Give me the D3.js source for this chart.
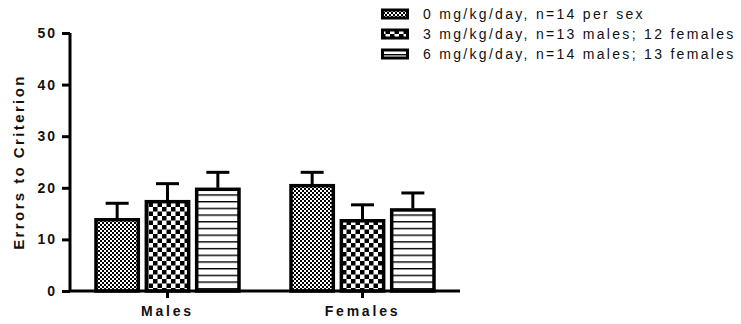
<!DOCTYPE html>
<html>
<head>
<meta charset="utf-8">
<script src="https://cdn.jsdelivr.net/npm/d3@7"></script>
<style>
body { margin: 0; background: #fff; }
text { font-family: "Liberation Sans", Arial, sans-serif; fill: #111; }
</style>
</head>
<body>
<script>
//Width and height
var w = 741;
var h = 324;

//Data
var groups = ["Males", "Females"];
var doses = ["0 mg/kg/day, n=14 per sex", "3 mg/kg/day, n=13 males; 12 females", "6 mg/kg/day, n=14 males; 13 females"];
var means = [[14.1, 17.6, 20.0], [20.7, 13.9, 16.0]];
var errs = [[2.9, 3.2, 3.0], [2.3, 2.8, 3.0]];
var yTicks = [0, 10, 20, 30, 40, 50];
var patternIds = ["fine", "checker", "lines"];

//Scales
var x = d3.scaleBand().domain(groups).range([70, 460]).padding(0);
var xBar = d3.scaleBand().domain(d3.range(3)).range([-73, 73]).paddingInner(0.1);
var y = d3.scaleLinear().domain([0, 50]).range([291, 33]);

var svg = d3.select("body").append("svg").attr("width", w).attr("height", h);

//Patterns
var defs = svg.append("defs");
var p1 = defs.append("pattern").attr("id", "fine").attr("patternUnits", "userSpaceOnUse")
	.attr("width", 4).attr("height", 4);
p1.append("rect").attr("width", 4).attr("height", 4).attr("fill", "#fff");
p1.append("rect").attr("width", 2).attr("height", 2).attr("fill", "#000");
p1.append("rect").attr("x", 2).attr("y", 2).attr("width", 2).attr("height", 2).attr("fill", "#000");

var p2 = defs.append("pattern").attr("id", "checker").attr("patternUnits", "userSpaceOnUse")
	.attr("width", 9).attr("height", 9);
p2.append("rect").attr("width", 9).attr("height", 9).attr("fill", "#fff");
p2.append("rect").attr("width", 4.5).attr("height", 4.5).attr("fill", "#000");
p2.append("rect").attr("x", 4.5).attr("y", 4.5).attr("width", 4.5).attr("height", 4.5).attr("fill", "#000");

var p3 = defs.append("pattern").attr("id", "lines").attr("patternUnits", "userSpaceOnUse")
	.attr("width", 6.7).attr("height", 6.7);
p3.append("rect").attr("width", 6.7).attr("height", 6.7).attr("fill", "#fff");
p3.append("rect").attr("y", 0).attr("width", 6.7).attr("height", 1.4).attr("fill", "#000");

//Bars
groups.forEach(function(g, gi) {
	var gx = x(g) + x.bandwidth() / 2;
	means[gi].forEach(function(m, i) {
		var bx = gx + xBar(i);
		var cx = bx + xBar.bandwidth() / 2;
		//error bar
		svg.append("line").attr("x1", cx).attr("x2", cx)
			.attr("y1", y(m)).attr("y2", y(m + errs[gi][i]))
			.attr("stroke", "#000").attr("stroke-width", 3);
		svg.append("line").attr("x1", cx - 11.5).attr("x2", cx + 11.5)
			.attr("y1", y(m + errs[gi][i])).attr("y2", y(m + errs[gi][i]))
			.attr("stroke", "#000").attr("stroke-width", 3);
		svg.append("rect")
			.attr("x", bx + 1.5).attr("y", y(m) + 1.5)
			.attr("width", xBar.bandwidth() - 3).attr("height", y(0) - y(m) - 1.5)
			.attr("fill", "url(#" + patternIds[i] + ")")
			.attr("stroke", "#000").attr("stroke-width", 3.5);
	});
});

//Y axis
var yAxis = svg.append("g").attr("transform", "translate(70,0)")
	.call(d3.axisLeft(y).tickValues(yTicks).tickSize(8).tickPadding(5));
yAxis.select(".domain").attr("stroke-width", 3).attr("d", "M0," + y(50) + "V" + y(0));
yAxis.selectAll(".tick line").attr("stroke-width", 3);
yAxis.selectAll("text").style("font-size", "14px").style("font-weight", "bold")
	.style("letter-spacing", "2px").attr("fill", "#111");

//X axis
var xAxis = svg.append("g").attr("transform", "translate(0," + y(0) + ")")
	.call(d3.axisBottom(x).tickSize(7).tickPadding(8));
xAxis.select(".domain").attr("stroke-width", 3).attr("d", "M70,0H460");
xAxis.selectAll(".tick line").attr("stroke-width", 3);
xAxis.selectAll("text").style("font-size", "14px").style("font-weight", "bold")
	.style("letter-spacing", "2.8px").attr("fill", "#111");

//Y label
svg.append("text")
	.attr("transform", "translate(24," + ((y(0) + y(50)) / 2) + ") rotate(-90)")
	.attr("text-anchor", "middle")
	.style("font-size", "15px").style("font-weight", "bold").style("letter-spacing", "2.4px")
	.text("Errors to Criterion");

//Legend
var legend = svg.selectAll(".legend").data(doses).enter().append("g")
	.attr("transform", function(d, i) { return "translate(381," + (14 + i * 20) + ")"; });
legend.append("rect").attr("x", 1.5).attr("y", -4).attr("width", 25).attr("height", 8)
	.attr("fill", function(d, i) { return "url(#" + patternIds[i] + ")"; })
	.attr("stroke", "#000").attr("stroke-width", 3);
legend.append("text").attr("x", 42).attr("dy", "0.35em")
	.style("font-size", "14px").style("letter-spacing", "2.3px")
	.text(function(d) { return d; });
</script>
</body>
</html>
